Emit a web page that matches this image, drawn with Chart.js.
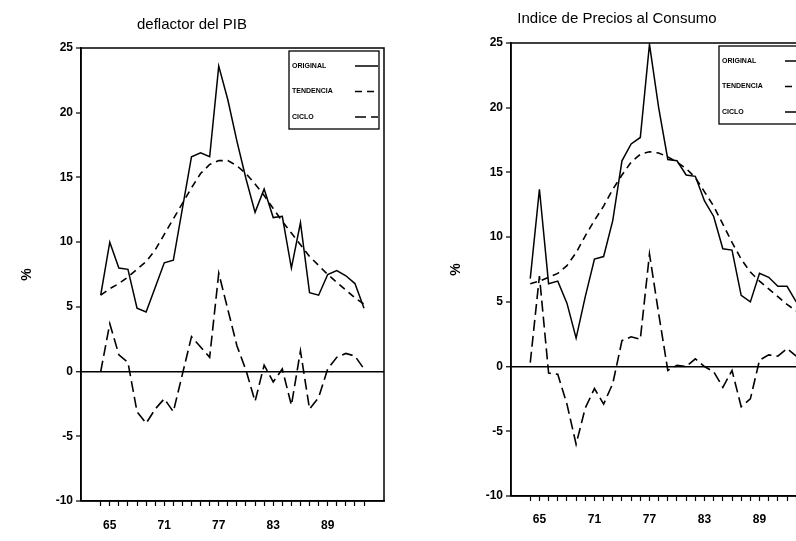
<!DOCTYPE html>
<html>
<head>
<meta charset="utf-8">
<script src="https://cdn.jsdelivr.net/npm/chart.js@4/dist/chart.umd.min.js"></script>
<style>
  html, body { margin: 0; padding: 0; background: #fff; overflow: hidden; width: 796px; height: 541px; }
  canvas { position: absolute; top: 0; }
  #c1 { left: 0; }
  #c2 { left: 420px; }
</style>
</head>
<body>
<canvas id="c1" width="419" height="541"></canvas>
<canvas id="c2" width="438" height="541"></canvas>
<script>
// ---- data ----
const years = [64,65,66,67,68,69,70,71,72,73,74,75,76,77,78,79,80,81,82,83,84,85,86,87,88,89,90,91,92,93];
const yearLabels = [65,71,77,83,89];
const yTicks = [25,20,15,10,5,0,-5,-10];
const seriesNames = ['ORIGINAL','TENDENCIA','CICLO'];

const titlePIB = 'deflactor del PIB';
const pibOriginal = [5.9,10.0,8.0,7.9,4.9,4.6,6.5,8.4,8.6,12.6,16.6,16.9,16.6,23.6,21.0,17.8,14.9,12.3,14.1,11.9,12.0,8.0,11.5,6.1,5.9,7.5,7.8,7.4,6.8,4.9];
const pibTendencia = [5.9,6.4,6.8,7.3,7.9,8.5,9.4,10.6,11.8,13.0,14.2,15.3,16.0,16.3,16.3,15.9,15.3,14.5,13.6,12.6,11.6,10.7,9.8,8.9,8.2,7.5,6.9,6.3,5.7,5.2];
const pibCiclo = [0.0,3.7,1.3,0.7,-3.1,-4.0,-2.9,-2.1,-3.1,-0.2,2.7,1.9,1.1,7.6,4.8,2.0,0.1,-2.3,0.5,-0.8,0.2,-2.6,1.6,-2.9,-2.0,0.2,1.1,1.4,1.2,0.2];

const titleIPC = 'Indice de Precios al Consumo';
const ipcOriginal = [6.8,13.7,6.4,6.6,4.9,2.2,5.4,8.3,8.5,11.3,15.9,17.2,17.7,24.9,20.0,16.0,15.9,14.8,14.7,12.8,11.6,9.1,9.0,5.5,5.0,7.2,6.9,6.2,6.2,5.0];
const ipcTendencia = [6.4,6.6,6.9,7.2,7.8,8.8,10.1,11.3,12.4,13.7,14.8,15.8,16.4,16.6,16.5,16.2,15.8,15.3,14.6,13.5,12.4,11.0,9.6,8.3,7.3,6.6,6.0,5.4,4.8,4.3];
const ipcCiclo = [0.3,7.0,-0.5,-0.6,-2.9,-6.0,-3.2,-1.7,-2.9,-1.3,2.0,2.3,2.1,8.7,4.1,-0.3,0.1,0.0,0.6,0.0,-0.4,-1.6,-0.3,-3.1,-2.5,0.5,0.9,0.8,1.4,0.8];

// ---- plugins ----
const framePlugin = {
  id: 'frame',
  afterDatasetsDraw(chart) {
    const a = chart.chartArea, ctx = chart.ctx;
    ctx.save();
    ctx.strokeStyle = '#000';
    ctx.lineWidth = 1.5;
    ctx.setLineDash([]);
    ctx.strokeRect(a.left, a.top, a.right - a.left, a.bottom - a.top);
    ctx.restore();
  }
};

const boxLegend = {
  id: 'boxLegend',
  afterDraw(chart) {
    const a = chart.chartArea, ctx = chart.ctx;
    const w = 90, h = 78;
    const x = a.right - 5 - w, y = a.top + 3;
    ctx.save();
    ctx.fillStyle = '#fff';
    ctx.fillRect(x, y, w, h);
    ctx.strokeStyle = '#000';
    ctx.lineWidth = 1.3;
    ctx.setLineDash([]);
    ctx.strokeRect(x, y, w, h);
    ctx.font = 'bold 7px "Liberation Sans", Arial, sans-serif';
    ctx.fillStyle = '#000';
    ctx.textBaseline = 'middle';
    chart.data.datasets.forEach((ds, i) => {
      const ty = y + 15 + i * 25.5;
      ctx.fillText(ds.label, x + 3, ty);
      ctx.beginPath();
      ctx.strokeStyle = '#000';
      ctx.lineWidth = ds.borderWidth;
      ctx.setLineDash(ds.borderDash || []);
      ctx.moveTo(x + 66, ty);
      ctx.lineTo(x + w - 1, ty);
      ctx.stroke();
    });
    ctx.restore();
  }
};

function makeChart(id, title, orig, trend, ciclo, cfg) {
  const mk = (arr) => years.map((yr, i) => ({x: yr, y: arr[i]}));
  return new Chart(document.getElementById(id), {
    type: 'line',
    data: {
      datasets: [
        {label: seriesNames[0], data: mk(orig), borderColor: '#000', borderWidth: 1.5, borderDash: [], pointRadius: 0, tension: 0, fill: false},
        {label: seriesNames[1], data: mk(trend), borderColor: '#000', borderWidth: 1.6, borderDash: [7, 5], pointRadius: 0, tension: 0, fill: false},
        {label: seriesNames[2], data: mk(ciclo), borderColor: '#000', borderWidth: 1.6, borderDash: [11, 5], pointRadius: 0, tension: 0, fill: false}
      ]
    },
    options: {
      responsive: false,
      animation: false,
      devicePixelRatio: 1,
      layout: {padding: {left: 0, right: cfg.padRight, top: 0, bottom: 0}},
      plugins: {
        legend: {display: false},
        tooltip: {enabled: false},
        title: {
          display: true, text: title, color: '#000',
          font: {family: '"Liberation Sans", Arial, sans-serif', size: 15, weight: 'normal', lineHeight: 1.2},
          padding: {top: cfg.titleTop, bottom: cfg.titleBottom}
        }
      },
      scales: {
        x: {
          type: 'linear', min: cfg.xmin, max: cfg.xmax,
          afterBuildTicks: (ax) => { ax.ticks = years.map(v => ({value: v})); },
          afterFit: (s) => { s.height = cfg.xHeight; },
          ticks: {
            autoSkip: false, maxRotation: 0, color: '#000', padding: cfg.xPad,
            font: {family: '"Liberation Sans", Arial, sans-serif', size: 12, weight: 'bold'},
            callback: (v) => yearLabels.includes(v) ? String(v) : ''
          },
          grid: {display: true, drawOnChartArea: false, drawTicks: true, tickLength: 5, tickColor: '#000', tickWidth: 1.2},
          border: {display: true, color: '#000', width: 1.5}
        },
        y: {
          min: -10, max: 25,
          afterBuildTicks: (ax) => { ax.ticks = yTicks.map(v => ({value: v})); },
          afterFit: (s) => { s.width = cfg.yWidth; },
          ticks: {
            color: '#000', padding: 3,
            font: {family: '"Liberation Sans", Arial, sans-serif', size: 12, weight: 'bold'}
          },
          grid: {
            display: true, drawOnChartArea: true, drawTicks: true, tickLength: 5, tickColor: '#000', tickWidth: 1.2,
            color: (c) => (c.tick && c.tick.value === 0) ? '#000' : 'rgba(0,0,0,0)',
            lineWidth: (c) => (c.tick && c.tick.value === 0) ? 1.5 : 0
          },
          border: {display: true, color: '#000', width: 1.5},
          title: {
            display: true, text: '%', color: '#000',
            font: {family: '"Liberation Sans", Arial, sans-serif', size: 14, weight: 'bold', lineHeight: 1.2},
            padding: {top: cfg.yTitlePad, bottom: 0}
          }
        }
      }
    },
    plugins: [framePlugin, boxLegend]
  });
}

makeChart('c1', titlePIB, pibOriginal, pibTendencia, pibCiclo, {
  padRight: 35, titleTop: 15.5, titleBottom: 14.5, xmin: 61.83, xmax: 95.2,
  xHeight: 40, xPad: 12.8, yWidth: 81, yTitlePad: 19
});
makeChart('c2', titleIPC, ipcOriginal, ipcTendencia, ipcCiclo, {
  padRight: 44, titleTop: 10, titleBottom: 15, xmin: 61.9, xmax: 94.94,
  xHeight: 45, xPad: 11.8, yWidth: 91, yTitlePad: 27.5
});
</script>
</body>
</html>
